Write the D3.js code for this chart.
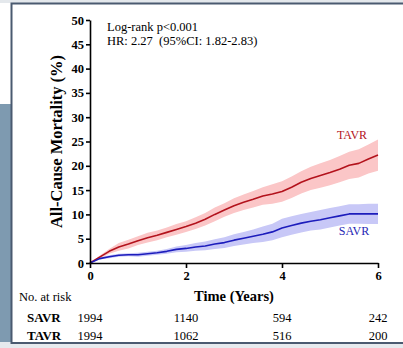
<!DOCTYPE html>
<html>
<head>
<meta charset="utf-8">
<script src="https://cdn.jsdelivr.net/npm/d3@7"></script>
<style>
  body { margin: 0; background: #fff; }
  svg { display: block; font-family: "Liberation Serif", "Times New Roman", serif; }
</style>
</head>
<body>
<div id="chart"></div>
<script>
// time points (years)
const times = [0, 0.2, 0.4, 0.6, 0.8, 1.0, 1.2, 1.4, 1.6, 1.8, 2.0, 2.2, 2.4, 2.6, 2.8, 3.0,
  3.2, 3.4, 3.6, 3.8, 4.0, 4.2, 4.4, 4.6, 4.8, 5.0, 5.2, 5.4, 5.6, 5.8, 6.0];

// TAVR cumulative mortality (%) and 95% CI
const tavrEst = [0, 1.2, 2.4, 3.3, 3.9, 4.6, 5.2, 5.7, 6.3, 6.9, 7.5, 8.2, 9.0, 10.0, 10.9, 11.8,
  12.5, 13.1, 13.8, 14.2, 14.7, 15.6, 16.6, 17.4, 18.0, 18.6, 19.3, 20.1, 20.5, 21.4, 22.2];
const tavrLo = [0, 0.9, 1.9, 2.5, 3.0, 3.7, 4.2, 4.7, 5.3, 5.8, 6.4, 7.0, 7.7, 8.6, 9.5, 10.3,
  10.9, 11.4, 12.0, 12.2, 12.6, 13.4, 14.3, 15.0, 15.5, 16.0, 16.6, 17.3, 17.6, 18.4, 19.0];
const tavrHi = [0, 1.5, 2.9, 4.1, 4.8, 5.5, 6.2, 6.7, 7.3, 8.0, 8.6, 9.4, 10.3, 11.4, 12.3, 13.3,
  14.1, 14.8, 15.6, 16.2, 16.8, 17.8, 18.9, 19.8, 20.5, 21.2, 22.0, 22.9, 23.4, 24.4, 25.4];

// SAVR cumulative mortality (%) and 95% CI
const savrEst = [0, 0.9, 1.3, 1.6, 1.7, 1.7, 1.9, 2.1, 2.4, 2.8, 3.0, 3.3, 3.5, 3.9, 4.2, 4.7,
  5.1, 5.5, 5.9, 6.4, 7.2, 7.7, 8.2, 8.6, 8.9, 9.3, 9.7, 10.1, 10.1, 10.1, 10.1];
const savrLo = [0, 0.7, 1.0, 1.3, 1.4, 1.3, 1.5, 1.7, 1.9, 2.2, 2.3, 2.5, 2.6, 2.9, 3.1, 3.5,
  3.8, 4.1, 4.3, 4.7, 5.3, 5.8, 6.3, 6.7, 6.9, 7.3, 7.7, 8.1, 8.1, 8.0, 8.0];
const savrHi = [0, 1.1, 1.6, 1.9, 2.0, 2.1, 2.3, 2.5, 2.9, 3.4, 3.7, 4.1, 4.4, 4.9, 5.3, 5.9,
  6.4, 6.9, 7.5, 8.1, 9.1, 9.6, 10.1, 10.5, 10.9, 11.3, 11.7, 12.1, 12.1, 12.2, 12.2];

const xTicks = [0, 2, 4, 6];
const yTicks = [0, 5, 10, 15, 20, 25, 30, 35, 40, 45, 50];

// number at risk
const riskGroups = ['SAVR', 'TAVR'];
const savrRisk = [1994, 1140, 594, 242];
const tavrRisk = [1994, 1062, 516, 200];

const W = 403, H = 348;
const svg = d3.select('#chart').append('svg')
  .attr('width', W)
  .attr('height', H);

// slide backdrop
svg.append('rect').attr('x', 0).attr('y', 0).attr('width', W).attr('height', 3).attr('fill', '#e4e8ec');
svg.append('rect').attr('x', 0).attr('y', 104).attr('width', 14).attr('height', 238).attr('fill', '#7e9ab0');
svg.append('rect').attr('x', 0).attr('y', 342).attr('width', W).attr('height', 6).attr('fill', '#e6eaee');
svg.append('rect')
  .attr('x', 11.5).attr('y', 3.5).attr('width', 420).attr('height', 339.5)
  .attr('fill', '#fff').attr('stroke', '#4a5a70').attr('stroke-width', 2);

const x = d3.scaleLinear().domain([0, 6]).range([90, 378]);
const y = d3.scaleLinear().domain([0, 50]).range([263, 20]);

const series = [
  { est: tavrEst, lo: tavrLo, hi: tavrHi, line: '#b3121c', band: '#fbc6c7' },
  { est: savrEst, lo: savrLo, hi: savrHi, line: '#1c1cbc', band: '#c8c8f7' }
];

const area = d3.area().x(i => x(times[i]));
const line = d3.line().x(i => x(times[i]));
const idx = d3.range(times.length);

series.forEach(s => {
  svg.append('path')
    .datum(idx)
    .attr('fill', s.band)
    .attr('d', area.y0(i => y(s.lo[i])).y1(i => y(s.hi[i])));
});
series.forEach(s => {
  svg.append('path')
    .datum(idx)
    .attr('fill', 'none')
    .attr('stroke', s.line)
    .attr('stroke-width', 1.6)
    .attr('stroke-linejoin', 'round')
    .attr('d', line.y(i => y(s.est[i])));
});

// axes
const yAxis = svg.append('g')
  .attr('transform', 'translate(90,0)')
  .call(d3.axisLeft(y).tickValues(yTicks).tickFormat(d3.format('d'))
    .tickSize(4).tickPadding(2).tickSizeOuter(0));
const xAxis = svg.append('g')
  .attr('transform', 'translate(0,263)')
  .call(d3.axisBottom(x).tickValues(xTicks).tickFormat(d3.format('d'))
    .tickSize(5).tickPadding(3).tickSizeOuter(0));
[xAxis, yAxis].forEach(g => {
  g.selectAll('path, line').attr('stroke', '#000').attr('stroke-width', 1.6);
  g.selectAll('text')
    .attr('fill', '#000')
    .style('font-family', '"Liberation Serif", serif')
    .style('font-weight', 'bold')
    .style('font-size', '12.5px');
});

// axis titles
svg.append('text')
  .attr('transform', 'translate(62,' + (263 + 20) / 2 + ') rotate(-90)')
  .attr('text-anchor', 'middle')
  .style('font-weight', 'bold')
  .style('font-size', '16.5px')
  .text('All-Cause Mortality (%)');

svg.append('text')
  .attr('x', 234)
  .attr('y', 301)
  .attr('text-anchor', 'middle')
  .style('font-weight', 'bold')
  .style('font-size', '14.5px')
  .text('Time (Years)');

// annotations
svg.append('text').attr('x', 107).attr('y', 31).style('font-size', '12.5px').text('Log-rank p<0.001');
svg.append('text').attr('x', 107).attr('y', 45).style('font-size', '12.5px')
  .attr('xml:space', 'preserve').text('HR: 2.27  (95%CI: 1.82-2.83)');

svg.append('text').attr('x', 352).attr('y', 139).attr('text-anchor', 'middle')
  .attr('fill', '#b3121c').style('font-size', '12px').text('TAVR');
svg.append('text').attr('x', 354).attr('y', 235).attr('text-anchor', 'middle')
  .attr('fill', '#2626b4').style('font-size', '12px').text('SAVR');

// number at risk table
svg.append('text').attr('x', 19).attr('y', 301).style('font-size', '12.5px').text('No. at risk');
const riskRows = [savrRisk, tavrRisk];
const rowY = [322, 340];
riskGroups.forEach((g, r) => {
  svg.append('text').attr('x', 27).attr('y', rowY[r])
    .style('font-weight', 'bold').style('font-size', '13px').text(g);
  svg.selectAll(null)
    .data(riskRows[r])
    .enter().append('text')
    .attr('x', (d, i) => x(xTicks[i]))
    .attr('y', rowY[r])
    .attr('text-anchor', 'middle')
    .style('font-size', '12.5px')
    .text(d => d);
});
</script>
</body>
</html>
